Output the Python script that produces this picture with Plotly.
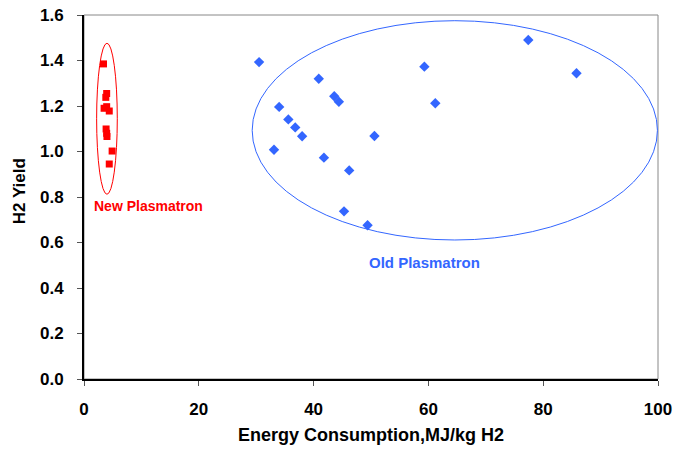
import plotly.graph_objects as go

# Data
new_x = [3.4, 3.95, 3.8, 3.5, 3.95, 4.4, 3.85, 3.95, 4.0, 4.9, 4.4]
new_y = [1.385, 1.255, 1.238, 1.19, 1.197, 1.178, 1.099, 1.08, 1.066, 1.002, 0.945]

old_x = [30.5, 40.9, 34.0, 43.6, 44.4, 35.6, 36.8, 38.0, 50.6, 33.1, 41.8, 46.2, 45.3, 49.4, 59.3, 61.2, 77.4, 85.8]
old_y = [1.393, 1.32, 1.196, 1.243, 1.219, 1.141, 1.106, 1.067, 1.068, 1.008, 0.973, 0.917, 0.737, 0.676, 1.373, 1.212, 1.49, 1.344]

x_ticks = [0, 20, 40, 60, 80, 100]
y_ticks = [0.0, 0.2, 0.4, 0.6, 0.8, 1.0, 1.2, 1.4, 1.6]

RED = "#FF0000"
BLUE = "#3366FF"
FONT = "Liberation Sans"

fig = go.Figure()
fig.add_trace(go.Scatter(x=new_x, y=new_y, mode="markers", name="New Plasmatron",
                         marker=dict(symbol="square", size=7, color=RED)))
fig.add_trace(go.Scatter(x=old_x, y=old_y, mode="markers", name="Old Plasmatron",
                         marker=dict(symbol="diamond", size=8, color=BLUE)))

# frame (gray top/right)
fig.add_shape(type="rect", xref="x domain", yref="y domain", x0=0, x1=1, y0=0, y1=1,
              line=dict(color="#888888", width=1), layer="below")
# ellipses
fig.add_shape(type="circle", xref="x", yref="y", x0=2.2, x1=5.8, y0=0.812, y1=1.476,
              line=dict(color=RED, width=1))
fig.add_shape(type="circle", xref="x", yref="y", x0=29.3, x1=99.9, y0=0.611, y1=1.575,
              line=dict(color=BLUE, width=1))

fig.add_annotation(x=11.3, y=0.76, text="<b>New Plasmatron</b>", showarrow=False,
                   font=dict(family=FONT, size=14, color=RED))
fig.add_annotation(x=59.4, y=0.514, text="<b>Old Plasmatron</b>", showarrow=False,
                   font=dict(family=FONT, size=15, color=BLUE))

# axis titles
fig.add_annotation(xref="paper", yref="paper", x=0.5, y=-0.155, yanchor="middle",
                   text="<b>Energy Consumption,MJ/kg H2</b>", showarrow=False,
                   font=dict(family=FONT, size=18, color="black"))
fig.add_annotation(xref="paper", yref="paper", x=-0.112, y=0.515, xanchor="center", yanchor="middle",
                   text="<b>H2 Yield</b>", showarrow=False, textangle=-90,
                   font=dict(family=FONT, size=17, color="black"))

fig.update_layout(
    width=675, height=455,
    margin=dict(l=84, r=17, t=15, b=76),
    paper_bgcolor="white", plot_bgcolor="white",
    showlegend=False,
    font=dict(family=FONT, size=17, color="black"),
)
fig.update_xaxes(range=[0, 100], tickvals=x_ticks, ticktext=[f"<b>{v}</b>" for v in x_ticks],
                 showgrid=False, zeroline=False, showline=True, linecolor="black", linewidth=2,
                 ticks="outside", ticklen=5, tickcolor="#555555", ticklabelstandoff=9,
                 automargin=False)
fig.update_yaxes(range=[0, 1.6], tickvals=y_ticks, ticktext=[f"<b>{v:.1f}</b>" for v in y_ticks],
                 showgrid=False, zeroline=False, showline=True, linecolor="black", linewidth=2,
                 ticks="outside", ticklen=5, tickcolor="#555555", ticklabelstandoff=10,
                 automargin=False)

fig.write_html("out.html")
